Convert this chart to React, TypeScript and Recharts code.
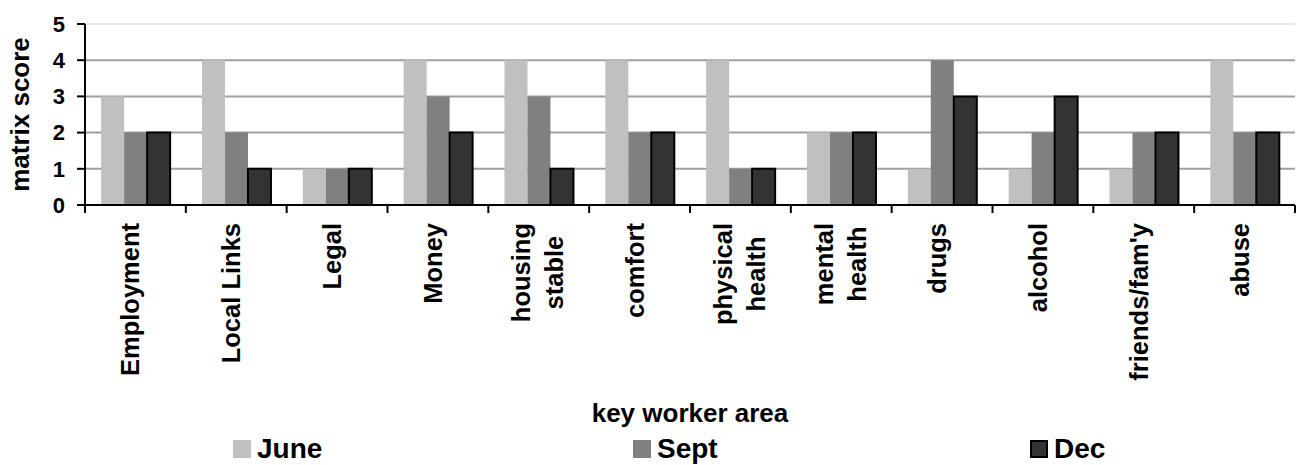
import React from 'react';
import { BarChart, Bar, XAxis, YAxis, CartesianGrid, ReferenceLine, Legend } from 'recharts';

const categories = [
  'Employment', 'Local Links', 'Legal', 'Money', 'housing stable', 'comfort',
  'physical health', 'mental health', 'drugs', 'alcohol', "friends/fam'y", 'abuse',
];
const tickLabels: string[][] = [
  ['Employment'], ['Local Links'], ['Legal'], ['Money'], ['housing', 'stable'], ['comfort'],
  ['physical', 'health'], ['mental', 'health'], ['drugs'], ['alcohol'], ["friends/fam'y"], ['abuse'],
];
const june = [3, 4, 1, 4, 4, 4, 4, 2, 1, 1, 1, 4];
const sept = [2, 2, 1, 3, 3, 2, 1, 2, 4, 2, 2, 2];
const dec = [2, 1, 1, 2, 1, 2, 1, 2, 3, 3, 2, 2];
const yTicks = [0, 1, 2, 3, 4, 5];
const gridValues = [1, 2, 3, 4];
const seriesNames = ['June', 'Sept', 'Dec'];
const seriesColors = ['#c0c0c0', '#808080', '#333333'];
const yTitle = 'matrix score';
const xTitle = 'key worker area';

const data = categories.map((c, i) => ({ name: c, june: june[i], sept: sept[i], dec: dec[i] }));

const W = 1299;
const H = 465;
const M_TOP = 24;
const M_RIGHT = 4;
const Y_W = 85;
const X_H = 260;
const AXIS_Y = H - X_H;
const PLOT_W = W - Y_W - M_RIGHT;
const HALF = PLOT_W / categories.length / 2;
const FONT = '"Liberation Sans", Arial, Helvetica, sans-serif';
const LABEL_TOP = 223;
const TICK_FS = 25.5;

let ctx: CanvasRenderingContext2D | null = null;
function measure(t: string, size: number): number {
  if (!ctx) ctx = document.createElement('canvas').getContext('2d');
  if (!ctx) return t.length * size * 0.6;
  ctx.font = `bold ${size}px "Liberation Sans"`;
  return ctx.measureText(t).width;
}

const XTick = (props: any) => {
  const { x, payload } = props;
  const idx = categories.indexOf(payload.value);
  const lines = tickLabels[idx] || [String(payload.value)];
  const n = lines.length;
  const bw = Math.max(...lines.map((l) => measure(l, TICK_FS)));
  return (
    <g>
      <line x1={x - HALF} x2={x - HALF} y1={AXIS_Y} y2={AXIS_Y + 8} stroke="#000" strokeWidth={2} />
      {idx === categories.length - 1 && (
        <line x1={x + HALF} x2={x + HALF} y1={AXIS_Y} y2={AXIS_Y + 8} stroke="#000" strokeWidth={2} />
      )}
      <g transform={`translate(${x},${LABEL_TOP}) rotate(-90)`}>
        {lines.map((l, i) => (
          <text
            key={i}
            x={n === 1 ? 0 : -bw / 2}
            y={(i - (n - 1) / 2) * 33 + (n === 1 ? 4 : 8)}
            textAnchor={n === 1 ? 'end' : 'middle'}
            fontFamily={FONT}
            fontWeight="bold"
            fontSize={TICK_FS}
            fill="#000"
          >
            {l}
          </text>
        ))}
      </g>
    </g>
  );
};

const LegendContent = (props: any) => {
  const payload = props.payload || [];
  const lefts = [233, 633, 1030];
  return (
    <div style={{ position: 'relative', width: W, height: 30 }}>
      {seriesNames.map((name, i) => {
        const p = payload.find((q: any) => q.value === name);
        const color = (p && p.color) || seriesColors[i];
        const isDec = i === 2;
        return (
          <div
            key={name}
            style={{
              position: 'absolute',
              left: lefts[i],
              top: 0,
              height: 30,
              display: 'flex',
              alignItems: 'center',
              fontFamily: FONT,
              fontWeight: 'bold',
              fontSize: 28,
              color: '#000',
            }}
          >
            <span
              style={{
                display: 'inline-block',
                width: isDec ? 14 : 18,
                height: isDec ? 14 : 18,
                background: color,
                border: isDec ? '2px solid #000' : 'none',
                marginRight: 6,
              }}
            />
            <span style={{ lineHeight: '30px' }}>{name}</span>
          </div>
        );
      })}
    </div>
  );
};

export default function App() {
  return (
    <div style={{ position: 'absolute', left: 0, top: 0, width: W, height: H, background: '#fff' }}>
      <BarChart
        width={W}
        height={H}
        data={data}
        margin={{ top: M_TOP, right: M_RIGHT, left: 0, bottom: 0 }}
        barCategoryGap="16%"
        barGap={0}
      >
        <CartesianGrid vertical={false} horizontalValues={gridValues} stroke="#a0a0a0" strokeWidth={2} />
        <ReferenceLine y={5} stroke="#dcdcdc" strokeWidth={1.5} />
        <XAxis
          dataKey="name"
          interval={0}
          height={X_H}
          tickLine={false}
          axisLine={{ stroke: '#000', strokeWidth: 2 }}
          tick={<XTick />}
          label={{
            content: () => (
              <text x={Y_W + PLOT_W / 2} y={422} textAnchor="middle" fontFamily={FONT} fontWeight="bold" fontSize={26} fill="#000">
                {xTitle}
              </text>
            ),
          }}
        />
        <YAxis
          width={Y_W}
          domain={[0, 5]}
          ticks={yTicks}
          interval={0}
          tickSize={8}
          tickMargin={12}
          axisLine={{ stroke: '#000', strokeWidth: 2 }}
          tickLine={{ stroke: '#000', strokeWidth: 2 }}
          tick={{ fontFamily: FONT, fontWeight: 'bold', fontSize: 22, fill: '#000' }}
          label={{
            content: (p: any) => {
              const vb = p.viewBox || {};
              const cy = (vb.y ?? M_TOP) + (vb.height ?? AXIS_Y - M_TOP) / 2;
              return (
                <text
                  transform={`translate(29,${cy}) rotate(-90)`}
                  x={0}
                  y={0}
                  textAnchor="middle"
                  fontFamily={FONT}
                  fontWeight="bold"
                  fontSize={26}
                  fill="#000"
                >
                  {yTitle}
                </text>
              );
            },
          }}
        />
        <Bar dataKey="june" name={seriesNames[0]} fill={seriesColors[0]} isAnimationActive={false} />
        <Bar dataKey="sept" name={seriesNames[1]} fill={seriesColors[1]} isAnimationActive={false} />
        <Bar dataKey="dec" name={seriesNames[2]} fill={seriesColors[2]} stroke="#000" strokeWidth={2} isAnimationActive={false} />
        <Legend
          verticalAlign="middle"
          layout="horizontal"
          align="center"
          wrapperStyle={{ position: 'absolute', left: 0, top: 434, width: W, height: 30 }}
          content={<LegendContent />}
        />
      </BarChart>
    </div>
  );
}
